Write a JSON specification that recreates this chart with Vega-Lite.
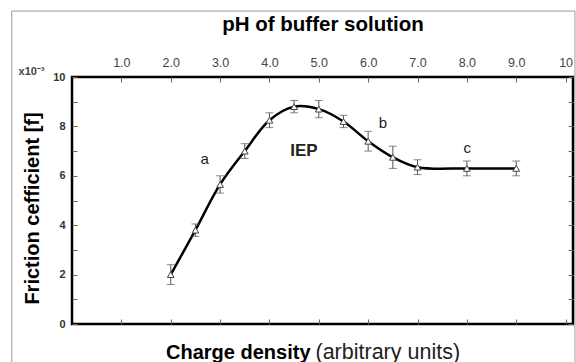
{
  "$schema": "https://vega.github.io/schema/vega-lite/v6.json",
  "width": 501,
  "height": 247,
  "autosize": "none",
  "padding": {"left": 72, "top": 77, "right": 3, "bottom": 38},
  "background": "white",
  "config": {
    "view": {"stroke": "#000", "strokeWidth": 2.5},
    "font": "Liberation Sans",
    "axis": {"grid": false, "domain": false, "labelFont": "Liberation Sans", "titleFont": "Liberation Sans", "labelColor": "#333", "labelFontSize": 11, "tickColor": "#666", "tickSize": -5, "tickWidth": 1, "titleColor": "#000"}
  },
  "datasets": {
    "pts": [
      {"x": 2.0, "f": 2.0, "lo": 1.6, "hi": 2.4},
      {"x": 2.5, "f": 3.8, "lo": 3.55, "hi": 4.05},
      {"x": 3.0, "f": 5.65, "lo": 5.3, "hi": 6.0},
      {"x": 3.5, "f": 7.0, "lo": 6.7, "hi": 7.3},
      {"x": 4.0, "f": 8.25, "lo": 7.95, "hi": 8.55},
      {"x": 4.5, "f": 8.8, "lo": 8.55, "hi": 9.05},
      {"x": 5.0, "f": 8.7, "lo": 8.35, "hi": 9.05},
      {"x": 5.5, "f": 8.2, "lo": 7.95, "hi": 8.45},
      {"x": 6.0, "f": 7.4, "lo": 7.0, "hi": 7.8},
      {"x": 6.5, "f": 6.75, "lo": 6.3, "hi": 7.2},
      {"x": 7.0, "f": 6.35, "lo": 6.05, "hi": 6.65},
      {"x": 8.0, "f": 6.3, "lo": 6.0, "hi": 6.6},
      {"x": 9.0, "f": 6.3, "lo": 6.0, "hi": 6.6}
    ],
    "notes": [
      {"x": 2.69, "f": 6.68, "t": "a"},
      {"x": 6.3, "f": 8.14, "t": "b"},
      {"x": 8.01, "f": 7.13, "t": "c"}
    ],
    "iep": [
      {"x": 4.7, "f": 7.0, "t": "IEP"}
    ],
    "one": [{}]
  },
  "resolve": {"axis": {"x": "independent", "y": "independent"}},
  "layer": [
    {
      "data": {"name": "one"},
      "mark": {"type": "rect", "clip": false, "filled": false, "stroke": "#999", "strokeWidth": 1},
      "encoding": {
        "x": {"datum": -1.22, "type": "quantitative", "scale": {"domain": [0, 10.15], "nice": false, "zero": false}, "axis": null},
        "x2": {"datum": 10.19},
        "y": {"datum": -1.8, "type": "quantitative", "scale": {"domain": [0, 10], "nice": false, "zero": false}, "axis": null},
        "y2": {"datum": 12.67}
      }
    },
    {
      "data": {"name": "pts"},
      "mark": {"type": "line", "interpolate": "catmull-rom", "color": "#000", "strokeWidth": 2.5},
      "encoding": {
        "x": {"field": "x", "type": "quantitative", "axis": {"orient": "top", "values": [1,2,3,4,5,6,7,8,9,10], "labelExpr": "datum.value == 10 ? '10' : format(datum.value, '.1f')", "labelPadding": 13, "labelFontSize": 12.5, "labelColor": "#444", "title": "pH of buffer solution", "titleFontSize": 20.5, "titleFontWeight": "bold", "titleY": -53, "titleBaseline": "middle"}},
        "y": {"field": "f", "type": "quantitative", "axis": {"orient": "left", "values": [0,1,2,3,4,5,6,7,8,9,10], "labelExpr": "datum.value % 2 == 0 ? datum.label : ''", "labelPadding": 12, "labelFontWeight": "bold", "title": "Friction cefficient [f]", "titleFontSize": 20, "titleFontWeight": "bold", "titleX": -40, "titleY": 131, "titleBaseline": "middle", "titleAlign": "center"}}
      }
    },
    {
      "data": {"name": "pts"},
      "mark": {"type": "rule", "color": "#555", "strokeWidth": 1},
      "encoding": {
        "x": {"field": "x", "type": "quantitative", "axis": {"orient": "bottom", "values": [1,2,3,4,5,6,7,8,9,10], "labels": false, "title": "Charge density", "titleFontSize": 20, "titleFontWeight": "bold", "titleX": 238, "titleAlign": "right", "titleY": 28, "titleBaseline": "middle"}},
        "y": {"field": "lo", "type": "quantitative", "axis": {"orient": "right", "values": [0,1,2,3,4,5,6,7,8,9,10], "labels": false, "title": null}},
        "y2": {"field": "hi"}
      }
    },
    {
      "data": {"name": "pts"},
      "mark": {"type": "tick", "orient": "horizontal", "size": 8, "thickness": 1, "color": "#555"},
      "encoding": {
        "x": {"field": "x", "type": "quantitative", "axis": null},
        "y": {"field": "lo", "type": "quantitative", "axis": null}
      }
    },
    {
      "data": {"name": "pts"},
      "mark": {"type": "tick", "orient": "horizontal", "size": 8, "thickness": 1, "color": "#555"},
      "encoding": {
        "x": {"field": "x", "type": "quantitative", "axis": null},
        "y": {"field": "hi", "type": "quantitative", "axis": null}
      }
    },
    {
      "data": {"name": "pts"},
      "mark": {"type": "point", "shape": "triangle-up", "size": 45, "filled": true, "fill": "white", "stroke": "#444", "strokeWidth": 1, "opacity": 1},
      "encoding": {
        "x": {"field": "x", "type": "quantitative", "axis": {"orient": "bottom", "domain": false, "ticks": false, "labels": false, "title": "(arbitrary units)", "titleFontSize": 21.5, "titleFontWeight": "normal", "titleColor": "#222", "titleX": 243, "titleAlign": "left", "titleY": 28, "titleBaseline": "middle"}},
        "y": {"field": "f", "type": "quantitative", "axis": null}
      }
    },
    {
      "data": {"name": "notes"},
      "mark": {"type": "text", "fontSize": 15, "color": "#222"},
      "encoding": {
        "x": {"field": "x", "type": "quantitative", "axis": null},
        "y": {"field": "f", "type": "quantitative", "axis": null},
        "text": {"field": "t"}
      }
    },
    {
      "data": {"name": "iep"},
      "mark": {"type": "text", "fontSize": 17, "fontWeight": "bold", "color": "#222"},
      "encoding": {
        "x": {"field": "x", "type": "quantitative", "axis": null},
        "y": {"field": "f", "type": "quantitative", "axis": null},
        "text": {"field": "t"}
      }
    },
    {
      "data": {"name": "one"},
      "mark": {"type": "text", "clip": false, "fontSize": 11, "fontWeight": "bold", "color": "#444", "text": "x10⁻³"},
      "encoding": {
        "x": {"datum": -0.82, "type": "quantitative", "axis": null},
        "y": {"datum": 10.2, "type": "quantitative", "axis": null}
      }
    }
  ]
}
